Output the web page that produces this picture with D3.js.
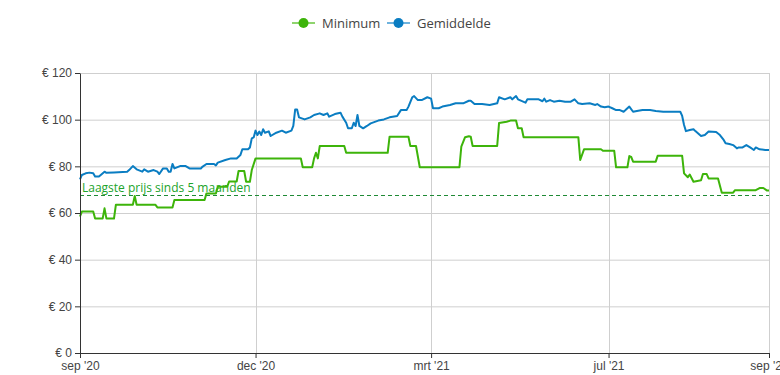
<!DOCTYPE html>
<html>
  <head>
    <meta charset="utf-8" />
    <title>Prijsverloop</title>
    <style>
      body {
        margin: 0;
        background: #fff;
        font-family: "Open Sans", "Noto Sans", sans-serif;
      }
      #chart svg {
        display: block;
      }
      .grid line {
        stroke: #cfcfcf;
        stroke-width: 1;
      }
      .axis path,
      .axis line {
        stroke: #333;
      }
      .axis text {
        fill: #444;
        font-size: 12px;
      }
    </style>
  </head>
  <body>
    <div id="chart"></div>
    <script src="https://cdn.jsdelivr.net/npm/d3@7"></script>
    <script>
      // series: [days since 1 sep 2020, price in euro]
      var minimumPoints = [
        [0, 58.5], [1, 60.6], [7, 60.6], [8, 57.6], [12, 57.6], [13, 62], [14, 57.6],
        [18, 57.6], [19, 63.5], [28, 63.5], [29, 67.3], [30, 63.5], [40, 63.5], [41, 62.4],
        [49, 62.4], [50, 65.6], [66, 65.6], [67, 68.4], [72, 68.4], [73, 71.3], [78, 71.3],
        [79, 73.5], [83, 73.5], [84, 78], [87, 78], [88, 73.4], [90, 73.4], [91, 78.4],
        [93, 83.4], [117, 83.4], [118, 79.6], [123, 79.6], [124, 83.4], [125, 85.8],
        [126, 83.4], [127, 88.7], [140, 88.7], [141, 85.8], [163, 85.8], [164, 92.7],
        [174, 92.7], [175, 88.7], [178, 88.7], [180, 79.6], [201, 79.6], [202, 88.4],
        [204, 92.5], [206, 92.9], [207, 92.7], [208, 88.7], [221, 88.7], [222, 98.6],
        [226, 99.1], [228, 99.6], [231, 99.6], [232, 96.3], [234, 96.3], [235, 92.5],
        [264, 92.5], [265, 82.7], [267, 87.3], [276, 87.3], [277, 86.7], [283, 86.7],
        [284, 79.6], [290, 79.6], [291, 84.4], [292, 84], [293, 82], [305, 82], [306, 84.5],
        [319, 84.5], [320, 77], [322, 75.3], [323, 76.5], [325, 73.4], [327, 73.7],
        [329, 74], [330, 76.7], [332, 76.7], [333, 74.8], [338, 74.8], [340, 68.7],
        [346, 68.7], [347, 69.8], [358, 69.8], [360, 70.7], [362, 70.7], [364, 69.6],
        [365, 69.6]
      ];

      var averagePoints = [
        [0, 74.4], [1, 76.3], [3, 77], [5, 77.3], [7, 77], [8, 75.6], [10, 75.6], [11, 76.3],
        [13, 77.7], [14, 77.2], [18, 77.4], [25, 77.7], [26, 78.4], [28, 80.1], [30, 78.7],
        [33, 77.7], [34, 78.7], [36, 77.7], [39, 78.4], [41, 77.7], [42, 76.7], [44, 79.1],
        [46, 79.1], [47, 77.7], [48, 77.7], [49, 81], [50, 79.1], [53, 80.1], [56, 80.1],
        [58, 79.1], [64, 79.1], [65, 79.9], [67, 81], [71, 81], [72, 80.4], [73, 81.6],
        [77, 82.7], [80, 83.4], [83, 83.4], [85, 84.9], [86, 87.3], [89, 87.3], [90, 88.1],
        [91, 92], [92, 92.4], [93, 95.3], [94, 93.4], [95, 94.9], [96, 93.4], [97, 95.9],
        [98, 94.4], [100, 95], [101, 93], [104, 94.4], [107, 95.3], [109, 94.4], [112, 95.3],
        [113, 97.3], [114, 104.4], [115, 104.4], [116, 101], [119, 100.1], [122, 101],
        [124, 102], [127, 102.7], [129, 102], [131, 102.7], [132, 101.3], [135, 102.4],
        [138, 103], [139, 101.3], [141, 98.7], [142, 96.3], [144, 96.3], [145, 98.7],
        [146, 97.3], [147, 102], [148, 97.3], [150, 96.3], [152, 97.3], [154, 98.4],
        [158, 99.6], [161, 100.1], [164, 101], [168, 101.6], [170, 104.1], [173, 104.1],
        [174, 105.6], [176, 109.6], [177, 110.1], [179, 108.4], [181, 108.4], [184, 109.6],
        [186, 109], [187, 104.9], [190, 104.9], [192, 105.6], [196, 106.3], [199, 107],
        [203, 107], [206, 108.1], [207, 108.1], [209, 106.7], [213, 106.7], [217, 106.3],
        [221, 107], [222, 109.6], [225, 108.7], [228, 109.6], [229, 108.7], [231, 110.1],
        [232, 108.7], [236, 107.3], [237, 108.7], [243, 108.7], [245, 107.9], [246, 109],
        [247, 107.7], [249, 108.4], [251, 107.7], [254, 108.1], [257, 107.7], [260, 107.7],
        [262, 108.7], [264, 107], [266, 106.7], [270, 107], [273, 106.3], [274, 106.7],
        [276, 105.6], [278, 105.3], [280, 105.6], [282, 104.9], [284, 104.1], [286, 104.1],
        [288, 103.4], [289, 104.1], [291, 105.6], [293, 103.4], [295, 103.7], [298, 104.1],
        [302, 104.1], [305, 103.7], [309, 103.4], [318, 103.4], [319, 101.6], [320, 97.7],
        [321, 95.1], [323, 95.6], [325, 95.9], [326, 95.1], [329, 93], [331, 93.4],
        [333, 94.9], [337, 94.7], [339, 93.4], [341, 91.3], [342, 89.9], [344, 89.6],
        [346, 89.1], [348, 87.7], [349, 88.1], [351, 88.1], [353, 89.1], [355, 88.1],
        [357, 87], [358, 88.1], [360, 87.3], [363, 87], [365, 87]
      ];

      var xTickDays = [0, 93, 186, 280, 365];
      var xTickLabels = ["sep '20", "dec '20", "mrt '21", "jul '21", "sep '21"];
      var yTicks = [0, 20, 40, 60, 80, 100, 120];
      var lowestPrice = 67.7;
      var lowestLabel = "Laagste prijs sinds 5 maanden";

      var series = [
        { name: "Minimum", color: "#3db40a", light: "#8fd46e", points: minimumPoints },
        { name: "Gemiddelde", color: "#0a7dc2", light: "#6fb3de", points: averagePoints }
      ];

      var width = 780, height = 375;
      var margin = { top: 73, right: 11, bottom: 22, left: 80 };
      var start = new Date(2020, 8, 1);
      var day = function(d) { return d3.timeDay.offset(start, d); };

      var svg = d3.select("#chart").append("svg")
        .attr("width", width)
        .attr("height", height);

      var x = d3.scaleTime()
        .domain([day(0), day(365)])
        .range([margin.left, width - margin.right]);

      var y = d3.scaleLinear()
        .domain([0, 120])
        .range([height - margin.bottom, margin.top]);

      // grid
      var grid = svg.append("g").attr("class", "grid");
      grid.selectAll(".h")
        .data(yTicks)
        .enter().append("line")
        .attr("x1", x.range()[0]).attr("x2", x.range()[1])
        .attr("y1", d => y(d) + 0.5).attr("y2", d => y(d) + 0.5);
      grid.selectAll(".v")
        .data(xTickDays)
        .enter().append("line")
        .attr("x1", d => Math.round(x(day(d))) + 0.5).attr("x2", d => Math.round(x(day(d))) + 0.5)
        .attr("y1", y.range()[1]).attr("y2", y.range()[0]);

      // reference line for lowest price
      svg.append("line")
        .attr("x1", x.range()[0]).attr("x2", x.range()[1])
        .attr("y1", Math.round(y(lowestPrice)) + 0.5).attr("y2", Math.round(y(lowestPrice)) + 0.5)
        .attr("stroke", "#1f8a35")
        .attr("stroke-dasharray", "4,3");

      svg.append("text")
        .attr("x", x.range()[0] + 2)
        .attr("y", y(lowestPrice) - 3.5)
        .attr("fill", "#20a32a")
        .style("font-size", "12px")
        .text(lowestLabel);

      // lines
      var line = d3.line()
        .x(d => x(day(d[0])))
        .y(d => y(d[1]));

      svg.selectAll(".series")
        .data(series)
        .enter().append("path")
        .attr("class", "series")
        .attr("d", d => line(d.points))
        .attr("fill", "none")
        .attr("stroke", d => d.color)
        .attr("stroke-width", 2)
        .attr("stroke-linejoin", "round");

      // axes
      svg.append("g")
        .attr("class", "axis")
        .attr("transform", "translate(" + margin.left + ",0)")
        .call(d3.axisLeft(y).tickValues(yTicks).tickSize(5).tickSizeOuter(0)
          .tickFormat(d => "€ " + d));

      svg.append("g")
        .attr("class", "axis")
        .attr("transform", "translate(0," + y(0) + ")")
        .call(d3.axisBottom(x).tickValues(xTickDays.map(day)).tickSize(5).tickSizeOuter(0)
          .tickFormat((d, i) => xTickLabels[i]));

      // legend
      var legend = svg.append("g").attr("transform", "translate(292,23)");
      var item = legend.selectAll("g")
        .data(series)
        .enter().append("g")
        .attr("transform", (d, i) => "translate(" + (i * 95) + ",0)");
      item.append("line")
        .attr("x1", 0).attr("x2", 23)
        .attr("stroke", d => d.light)
        .attr("stroke-width", 2);
      item.append("circle")
        .attr("cx", 11.5).attr("r", 5)
        .attr("fill", d => d.color);
      item.append("text")
        .attr("x", 30)
        .attr("dy", "0.35em")
        .attr("fill", "#444")
        .style("font-size", "13px")
        .text(d => d.name);
    </script>
  </body>
</html>
